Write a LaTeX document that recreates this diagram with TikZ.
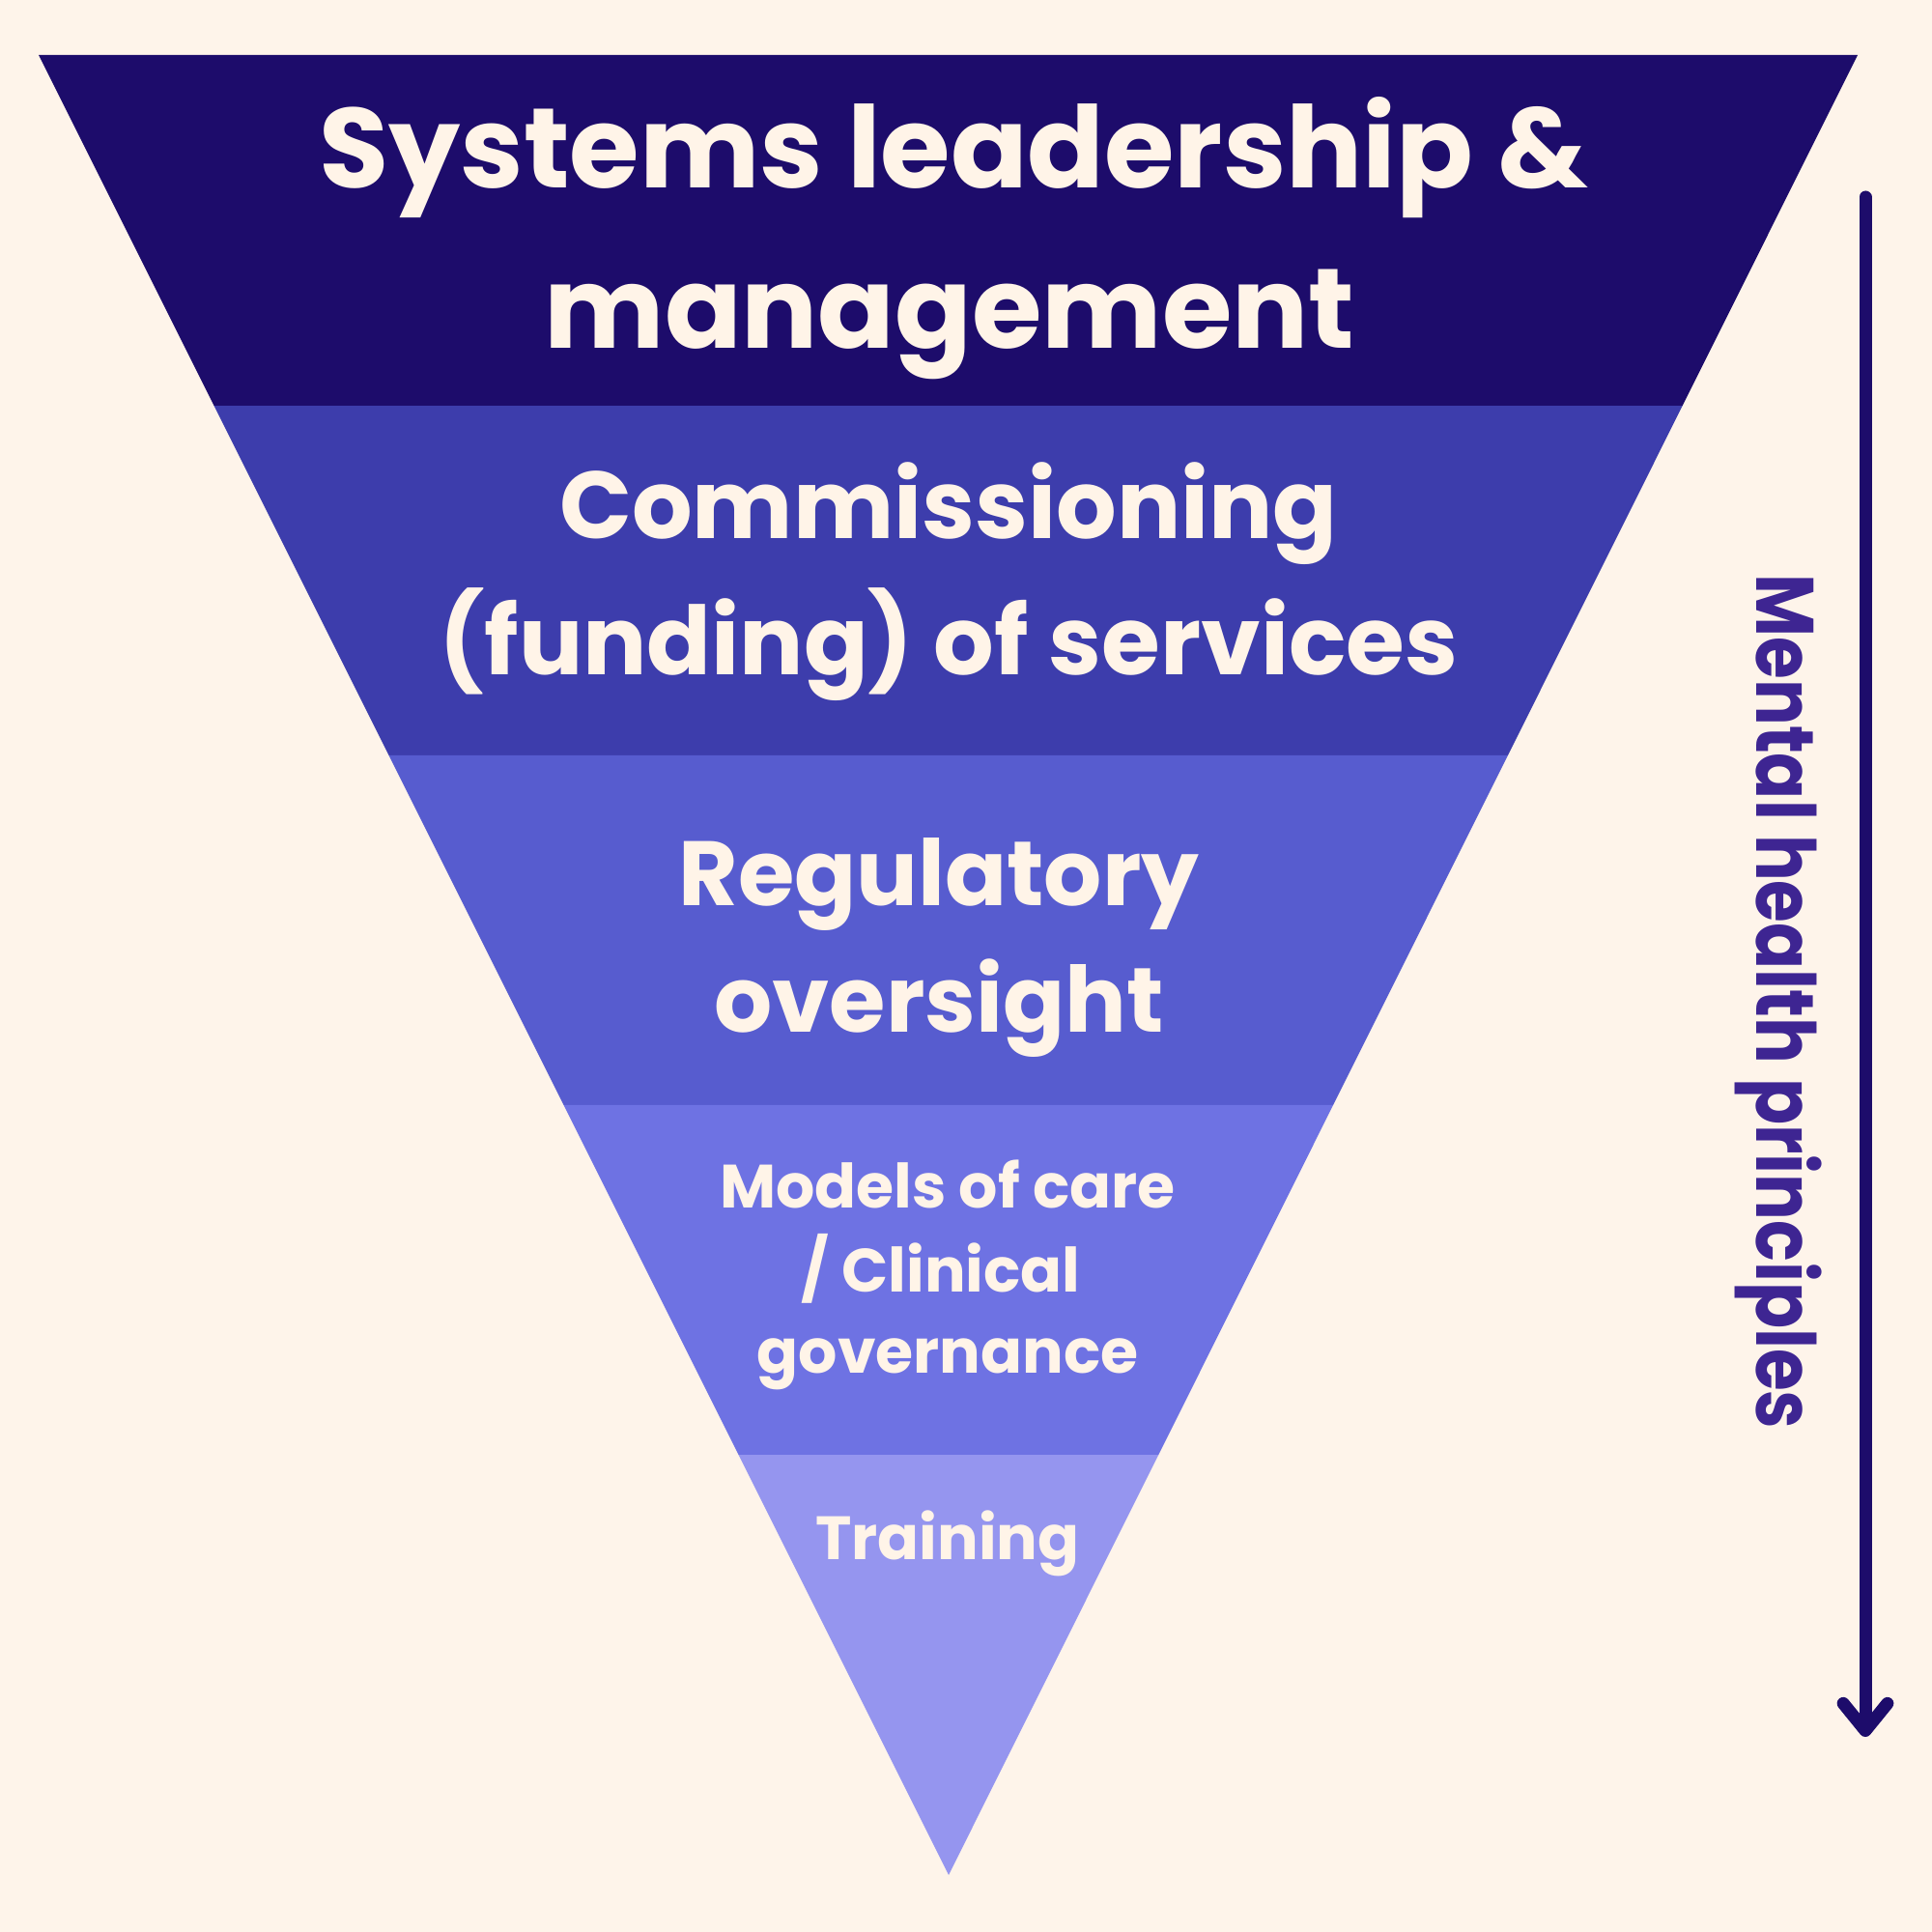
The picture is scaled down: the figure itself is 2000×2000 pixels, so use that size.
\documentclass[tikz,border=0pt]{standalone}
\usepackage{fontspec}
\setmainfont{Poppins}
\usepackage{tikz}
\usetikzlibrary{arrows.meta,calc}
\definecolor{Paper}{HTML}{FEF4EA}
\definecolor{Cream}{HTML}{FFF4E8}
\definecolor{Navy}{HTML}{1D0C6B}
\definecolor{BandTwo}{HTML}{3D3DAC}
\definecolor{BandThree}{HTML}{575CCF}
\definecolor{BandFour}{HTML}{6E72E3}
\definecolor{BandFive}{HTML}{9595EF}
\definecolor{Violet}{HTML}{3E2592}

\begin{document}
\begin{tikzpicture}[x=0.01cm,y=-0.01cm,
      label/.style={text=Cream,font=\bfseries,inner sep=0pt,anchor=base},
      sizeA/.style={font=\bfseries\fontsize{33.4}{40}\selectfont},
      sizeB/.style={font=\bfseries\fontsize{28}{32}\selectfont},
      sizeC/.style={font=\bfseries\fontsize{26.9}{30}\selectfont},
      sizeD/.style={font=\bfseries\fontsize{18}{20}\selectfont},
      flow/.style={-{Straight Barb[round,length=8pt,width=13pt]},Navy,
                   line width=3.7pt,line cap=round}]
    \fill[Paper] (0,0) rectangle (2000,2000);
    % triangle corners
    \coordinate (tl) at (40,57);
    \coordinate (tr) at (1923,57);
    \coordinate (apex) at (982,1941);
    % bands
    \fill[Navy] (tl) -- (tr) -- ($(tr)!0.1927!(apex)$) -- ($(tl)!0.1927!(apex)$) -- cycle;
    \fill[BandTwo] ($(tl)!0.1927!(apex)$) -- ($(tr)!0.1927!(apex)$)
      -- ($(tr)!0.3848!(apex)$) -- ($(tl)!0.3848!(apex)$) -- cycle;
    \fill[BandThree] ($(tl)!0.3848!(apex)$) -- ($(tr)!0.3848!(apex)$)
      -- ($(tr)!0.5769!(apex)$) -- ($(tl)!0.5769!(apex)$) -- cycle;
    \fill[BandFour] ($(tl)!0.5769!(apex)$) -- ($(tr)!0.5769!(apex)$)
      -- ($(tr)!0.7691!(apex)$) -- ($(tl)!0.7691!(apex)$) -- cycle;
    \fill[BandFive] ($(tl)!0.7691!(apex)$) -- ($(tr)!0.7691!(apex)$) -- (apex) -- cycle;
    % labels
    \node[label,sizeA] (lead1) at (987,195) {Systems leadership \&};
    \node[label,sizeA] (lead2) at (983,360) {management};
    \node[label,sizeB] (fund1) at (982,557) {Commissioning};
    \node[label,sizeB] (fund2) at (982,698) {(funding) of services};
    \node[label,sizeC] (reg1) at (972,937) {Regulatory};
    \node[label,sizeC] (reg2) at (972,1068) {oversight};
    \node[label,sizeD] (care1) at (981,1250) {Models of care};
    \node[label,sizeD] (care2) at (974,1337) {/ Clinical};
    \node[label,sizeD] (care3) at (981,1421) {governance};
    \node[label,sizeD] (train) at (981,1614) {Training};
    % side arrow
    \coordinate (arrtop) at (1931,204);
    \coordinate (arrbot) at (1931,1798);
    \draw[flow] (arrtop) -- (arrbot);
    \node[text=Violet,font=\bfseries\fontsize{24}{28}\selectfont,inner sep=0pt,
          anchor=base,rotate=-90] (side) at (1818,1037)
      {\scalebox{0.84}[1]{Mental health principles}};
  \end{tikzpicture}
\end{document}
